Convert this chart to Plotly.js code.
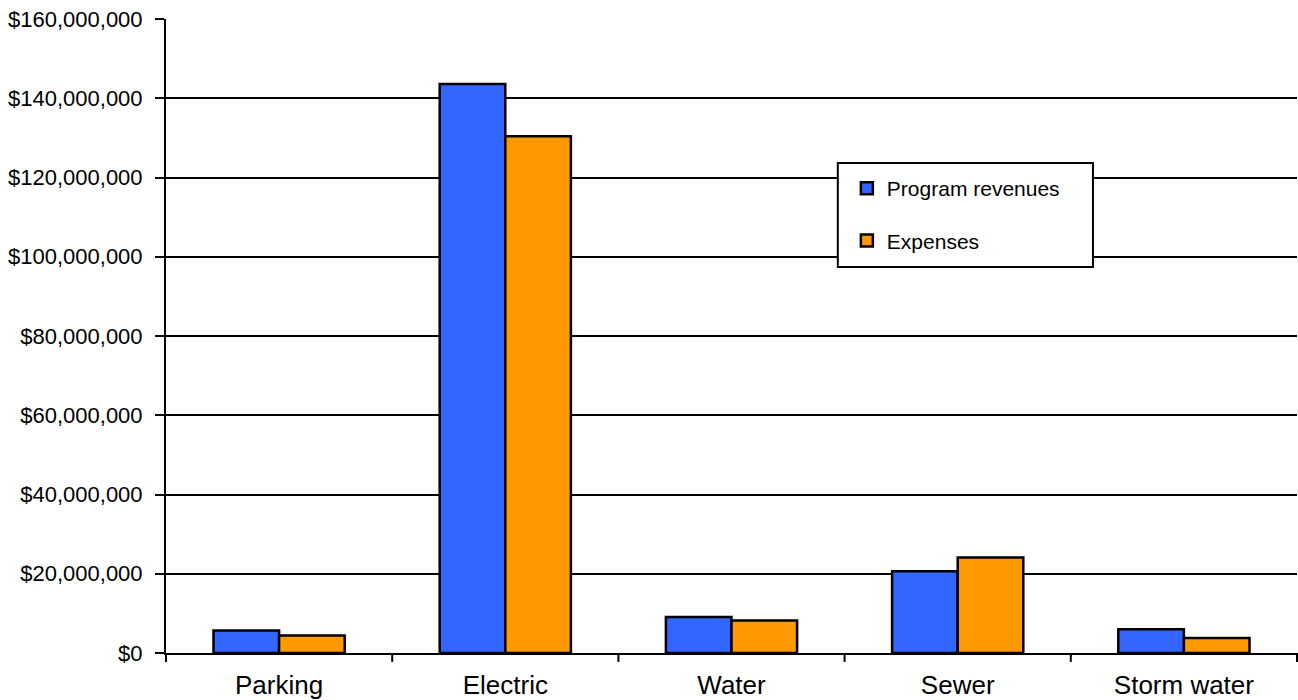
<!DOCTYPE html>
<html>
<head>
<meta charset="utf-8">
<script src="https://cdn.plot.ly/plotly-3.0.1.min.js"></script>
<style>html,body{margin:0;padding:0;background:#fff;}#chart{width:1298px;height:700px;}</style>
</head>
<body>
<div id="chart"></div>
<script>
const categories = ["Parking", "Electric", "Water", "Sewer", "Storm water"];
const programRevenues = [5700000, 143600000, 9100000, 20600000, 6000000];
const expenses = [4400000, 130400000, 8200000, 24100000, 3800000];
const yTicks = [0, 20000000, 40000000, 60000000, 80000000, 100000000, 120000000, 140000000, 160000000];
const yTickText = yTicks.map(v => "$" + v.toLocaleString("en-US"));

const font = "Liberation Sans, Arial, sans-serif";

const traces = [
  {type: "bar", name: "Program revenues", x: categories, y: programRevenues, legendgroup: "a",
   marker: {color: "#3366FF", line: {color: "#000", width: 2.5}}},
  {type: "bar", name: "Expenses", x: categories, y: expenses, legendgroup: "b",
   marker: {color: "#FF9900", line: {color: "#000", width: 2.5}}}
];

const layout = {
  width: 1298, height: 700,
  margin: {l: 166, r: 1, t: 19, b: 47},
  paper_bgcolor: "#fff", plot_bgcolor: "#fff",
  font: {family: font, color: "#000", size: 21},
  barmode: "group", bargap: 0.42, bargroupgap: 0,
  showlegend: true,
  legend: {x: 0.602, y: 0.765, xanchor: "left", yanchor: "top", bgcolor: "rgba(0,0,0,0)",
           borderwidth: 0, traceorder: "grouped", tracegroupgap: 22, itemwidth: 30,
           font: {size: 21, family: font}},
  xaxis: {showline: true, linecolor: "#000", linewidth: 2, ticks: "", showgrid: false,
          tickfont: {size: 26, family: font}, ticklabelstandoff: 8, fixedrange: true},
  yaxis: {range: [0, 160000000], tickmode: "array", tickvals: yTicks, ticktext: yTickText,
          showline: true, linecolor: "#000", linewidth: 2, ticks: "outside", ticklen: 9, tickwidth: 2, tickcolor: "#000",
          showgrid: true, gridcolor: "#000", gridwidth: 2, zeroline: false,
          tickfont: {size: 22, family: font}, ticklabelstandoff: 8},
  shapes: [
    {type: "rect", xref: "paper", yref: "paper", x0: 0.594, x1: 0.8196, y0: 0.609, y1: 0.773,
     fillcolor: "#fff", line: {color: "#000", width: 2}, layer: "above"}
  ]
};

// category tick marks between groups
const nCat = categories.length;
for (let i = 0; i <= nCat; i++) {
  layout.shapes.push({type: "line", xref: "paper", yref: "paper", x0: i / nCat, x1: i / nCat, y0: 0, y1: -0.014,
    line: {color: "#000", width: 2}});
}

Plotly.newPlot("chart", traces, layout, {displayModeBar: false, staticPlot: true});
</script>
</body>
</html>
